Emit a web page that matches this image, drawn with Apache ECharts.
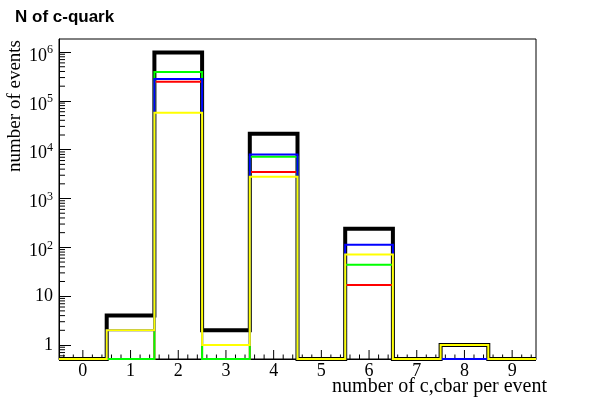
<!DOCTYPE html>
<html>
<head>
<meta charset="utf-8">
<script src="https://cdn.jsdelivr.net/npm/echarts@6/dist/echarts.min.js"></script>
<style>
  html, body { margin: 0; padding: 0; background: #fff; }
  #main { width: 595px; height: 399px; }
</style>
</head>
<body>
<div id="main"></div>
<script>
// bins of the histogram (number of c,cbar per event)
const bins = [0, 1, 2, 3, 4, 5, 6, 7, 8, 9]
// counts per bin
const total  = [0, 4, 9.8e5, 2, 2.12e4, 0, 240, 0, 1, 0]
const red    = [0, 0, 2.47e5, 0, 3.5e3, 0, 17, 0, 0, 0]
const green  = [0, 0, 3.9e5, 0, 7.2e3, 0, 44, 0, 0, 0]
const blue   = [0, 2, 2.8e5, 1, 8.0e3, 0, 113, 0, 0, 0]
const yellow = [0, 2, 5.7e4, 1, 2.8e3, 0, 71, 0, 1, 0]

const xMin = -0.5, xMax = 9.5
const yMin = 0.517, yMax = 1.85e6
const serif = '"Liberation Serif", "DejaVu Serif", serif'

// step line through bin edges, empty bins sit on the frame bottom
function stepData(vals) {
  let pts = bins.map((b, i) => [b - 0.5, Math.max(vals[i], yMin)])
  let last = vals[vals.length - 1]
  pts.push([bins[bins.length - 1] + 0.5, Math.max(last, yMin)])
  return pts
}

// ROOT style ticks: kind 0 = y minor, 1 = x minor, 2 = x major
let ticks = []
for (let d = -1; d <= 6; d++) {
  [2, 3, 4, 5, 6, 7, 8, 9].forEach(m => {
    let v = m * Math.pow(10, d)
    if (v > yMin && v < yMax) ticks.push([xMin, v, 0])
  })
}
for (let k = -2; k <= 47; k++) {
  let u = k / 5
  if (u <= xMin || u >= xMax) continue
  ticks.push([u, yMin, k % 5 === 0 ? 2 : 1])
}

function hist(name, vals, color, width) {
  return {
    name: name,
    type: 'line',
    step: 'end',
    data: stepData(vals),
    showSymbol: false,
    symbol: 'none',
    lineStyle: { color: color, width: width, join: 'miter' },
    silent: true
  }
}

let chart = echarts.init(document.getElementById('main'))
let option = {
  animation: false,
  backgroundColor: '#fff',
  title: {
    text: 'N of c-quark',
    left: 10,
    top: 4,
    textStyle: { fontFamily: '"Liberation Sans", Arial, sans-serif', fontWeight: 'bold', fontSize: 17, color: '#000' }
  },
  grid: {
    left: 59, right: 59, top: 39, bottom: 40,
    show: true, borderColor: '#000', borderWidth: 1,
    outerBoundsMode: 'none'
  },
  xAxis: {
    type: 'value',
    min: xMin,
    max: xMax,
    axisLine: { onZero: false, lineStyle: { color: '#000', width: 1 } },
    axisTick: { show: false },
    axisLabel: { customValues: bins, margin: 3, fontFamily: serif, fontSize: 18, color: '#000' },
    splitLine: { show: false }
  },
  yAxis: {
    type: 'log',
    logBase: 10,
    min: yMin,
    max: yMax,
    axisLine: { onZero: false, lineStyle: { color: '#000', width: 1 } },
    axisTick: { inside: true, length: 12, lineStyle: { color: '#000' } },
    axisLabel: {
      showMinLabel: false,
      showMaxLabel: false,
      margin: 6,
      fontFamily: serif,
      fontSize: 18,
      color: '#000',
      formatter: function (v) {
        let p = Math.round(Math.log10(v))
        if (p === 0) return '{b|1}'
        if (p === 1) return '{b|10}'
        return '{p|10}{s|' + p + '}'
      },
      rich: {
        b: { fontFamily: serif, fontSize: 18, color: '#000' },
        p: { fontFamily: serif, fontSize: 18, lineHeight: 18, color: '#000', padding: [8, 0, 0, 0] },
        s: { fontFamily: serif, fontSize: 12, lineHeight: 12, color: '#000', padding: [0, 0, 4, 0] }
      }
    },
    splitLine: { show: false },
    minorTick: { show: false }
  },
  graphic: [
    {
      type: 'text',
      x: 547, y: 387,
      style: { text: 'number of c,cbar per event', font: '20px ' + serif, fill: '#000', textAlign: 'right', textVerticalAlign: 'middle' }
    },
    {
      type: 'text',
      x: 15, y: 40,
      rotation: Math.PI / 2,
      style: { text: 'number of events', font: '19px ' + serif, fill: '#000', textAlign: 'right', textVerticalAlign: 'middle' }
    }
  ],
  series: [
    {
      type: 'custom',
      silent: true,
      data: ticks,
      encode: { x: 0, y: 1 },
      renderItem: function (params, api) {
        let p = api.coord([api.value(0), api.value(1)])
        let kind = api.value(2)
        let shape
        if (kind === 0) shape = { x1: p[0], y1: p[1], x2: p[0] + 6, y2: p[1] }
        else shape = { x1: p[0], y1: p[1], x2: p[0], y2: p[1] - (kind === 2 ? 9 : 4.5) }
        return { type: 'line', shape: shape, style: { stroke: '#000', lineWidth: 1 } }
      }
    },
    hist('total', total, '#000000', 4),
    hist('red', red, '#ff0000', 2),
    hist('green', green, '#00ff00', 2),
    hist('blue', blue, '#0000ff', 2),
    hist('yellow', yellow, '#ffff00', 2)
  ]
}
chart.setOption(option)
</script>
</body>
</html>
